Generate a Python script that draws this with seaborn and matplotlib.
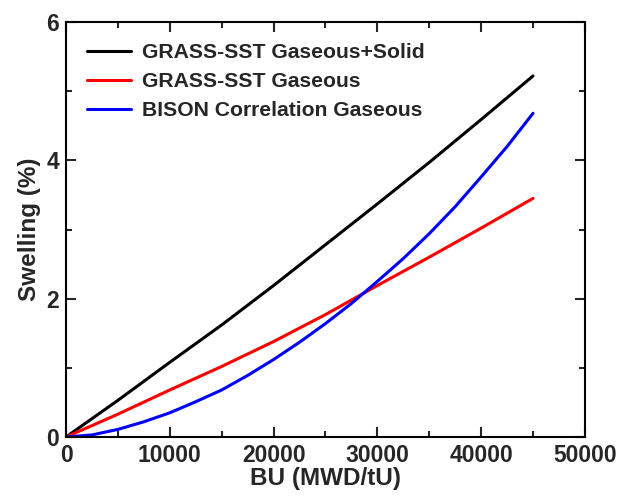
import numpy as np
import pandas as pd
import matplotlib
matplotlib.use("Agg")
import matplotlib.pyplot as plt
import seaborn as sns
from matplotlib.ticker import MultipleLocator

# Data
bu_black = [0, 5000, 10000, 15000, 20000, 25000, 30000, 35000, 40000, 45000]
sw_black = [0, 0.53, 1.08, 1.62, 2.19, 2.78, 3.37, 3.97, 4.59, 5.22]
bu_red = [0, 5000, 10000, 15000, 20000, 25000, 30000, 35000, 40000, 45000]
sw_red = [0, 0.33, 0.68, 1.02, 1.38, 1.77, 2.19, 2.60, 3.02, 3.45]
bu_blue = [0, 2500, 5000, 7500, 10000, 12500, 15000, 17500, 20000, 22500, 25000,
           27500, 30000, 32500, 35000, 37500, 40000, 42500, 45000]
sw_blue = [0, 0.03, 0.11, 0.22, 0.35, 0.51, 0.68, 0.89, 1.12, 1.37, 1.64,
           1.93, 2.25, 2.58, 2.94, 3.33, 3.76, 4.20, 4.68]
labels = ["GRASS-SST Gaseous+Solid", "GRASS-SST Gaseous", "BISON Correlation Gaseous"]
colors = ["#000000", "#ff0000", "#0000ff"]

df = pd.concat([
    pd.DataFrame({"BU": bu_black, "Swelling": sw_black, "Series": labels[0]}),
    pd.DataFrame({"BU": bu_red, "Swelling": sw_red, "Series": labels[1]}),
    pd.DataFrame({"BU": bu_blue, "Swelling": sw_blue, "Series": labels[2]}),
])

sns.set_style("ticks")
plt.rcParams["font.family"] = ["Liberation Sans", "DejaVu Sans"]
plt.rcParams["font.weight"] = "bold"

fig = plt.figure(figsize=(6.17, 5.0), dpi=100)
ax = fig.add_axes([0.107, 0.126, 0.841, 0.830])

sns.lineplot(data=df, x="BU", y="Swelling", hue="Series", hue_order=labels,
             palette=colors, linewidth=2.2, ax=ax, sort=False)

ax.set_xlim(0, 50000)
ax.set_ylim(0, 6)
ax.xaxis.set_major_locator(MultipleLocator(10000))
ax.xaxis.set_minor_locator(MultipleLocator(5000))
ax.yaxis.set_major_locator(MultipleLocator(2))
ax.yaxis.set_minor_locator(MultipleLocator(1))
ax.tick_params(which="both", direction="in", top=True, right=True, width=1.5)
ax.tick_params(which="major", length=7, labelsize=16.5, pad=5)
ax.tick_params(which="minor", length=4)
for lab in ax.get_xticklabels() + ax.get_yticklabels():
    lab.set_fontweight("bold")
for s in ax.spines.values():
    s.set_linewidth(1.5)
    s.set_color("black")

ax.set_xlabel("BU (MWD/tU)", fontsize=17.5, fontweight="bold", labelpad=0)
ax.set_ylabel("Swelling (%)", fontsize=17.5, fontweight="bold", labelpad=4)

leg = ax.legend(loc="upper left", frameon=False, handlelength=2.1,
                borderaxespad=0.5, labelspacing=0.48, handletextpad=0.5,
                borderpad=0.5, prop={"weight": "bold", "size": 15.2})
for line in leg.get_lines():
    line.set_linewidth(2.2)

fig.savefig("out.png", dpi=100)
